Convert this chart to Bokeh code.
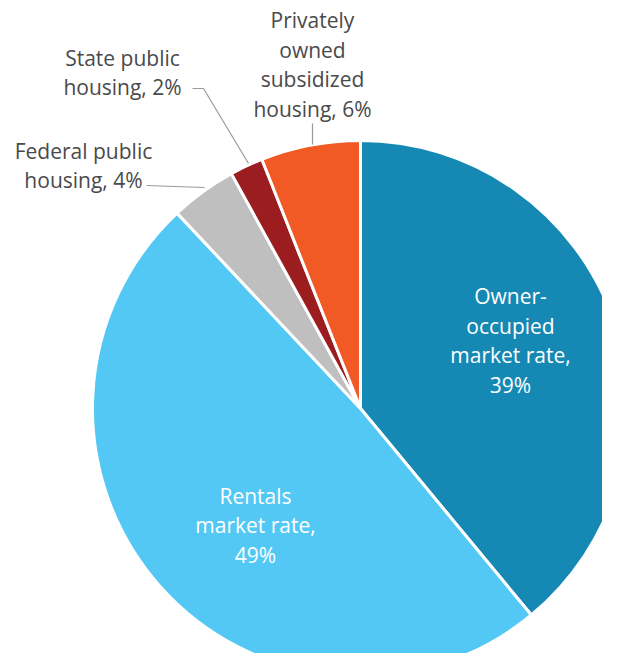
import math
from bokeh.plotting import figure
from bokeh.models import Range1d, ColumnDataSource
from bokeh.core.properties import value
from bokeh.embed import file_html
from bokeh.resources import INLINE

# ---- data ----
categories = ["Owner-occupied market rate", "Rentals market rate",
              "Federal public housing", "State public housing",
              "Privately owned subsidized housing"]
values = [39, 49, 4, 2, 6]
label_texts = ["Owner-\noccupied\nmarket rate,\n39%",
               "Rentals\nmarket rate,\n49%",
               "Federal public\nhousing, 4%",
               "State public\nhousing, 2%",
               "Privately\nowned\nsubsidized\nhousing, 6%"]
colors = ["#1589b4", "#53c8f4", "#bfbfbf", "#9c1d20", "#f15a24"]

# ---- layout (reference pixel coordinates; data y = 669 - pixel y) ----
PH = 669
def Y(py):
    return PH - py

cx, cy, r = 360, Y(408), 268

total = sum(values)
starts, ends = [], []
acc = 0
for v in values:
    s = acc / total
    acc += v
    e = acc / total
    starts.append(math.pi / 2 - 2 * math.pi * e)
    ends.append(math.pi / 2 - 2 * math.pi * s)

src = ColumnDataSource(dict(cat=categories, val=values, start=starts, end=ends, color=colors))

p = figure(width=602, height=653, x_range=Range1d(0, 602), y_range=Range1d(Y(653), Y(0)),
           output_backend="svg", toolbar_location=None, min_border=0,
           x_axis_location=None, y_axis_location=None)
p.grid.visible = False
p.outline_line_color = None

p.wedge(x=cx, y=cy, radius=r, start_angle="start", end_angle="end",
        fill_color="color", line_color="white", line_width=3, source=src)

# leader lines
p.multi_line(xs=[[192, 203, 248], [146, 204], [312, 312]],
             ys=[[Y(88), Y(88), Y(163)], [Y(185), Y(187)], [Y(123), Y(144)]],
             line_color="#9a9a9a", line_width=1.2)

font = value("Open Sans")
fs = "21px"
lh = 1.05
# inside labels
p.text(x=[510, 255], y=[Y(340), Y(525)], text=[label_texts[0], label_texts[1]],
       text_color="white", text_font=font, text_font_size=fs,
       text_align="center", text_baseline="middle", text_line_height=lh)
# outside labels
p.text(x=[83, 122, 312], y=[Y(165), Y(72), Y(64)],
       text=[label_texts[2], label_texts[3], label_texts[4]],
       text_color="#4a4a4a", text_font=font, text_font_size=fs,
       text_align="center", text_baseline="middle", text_line_height=lh)

open("out.html", "w").write(file_html(p, INLINE))
